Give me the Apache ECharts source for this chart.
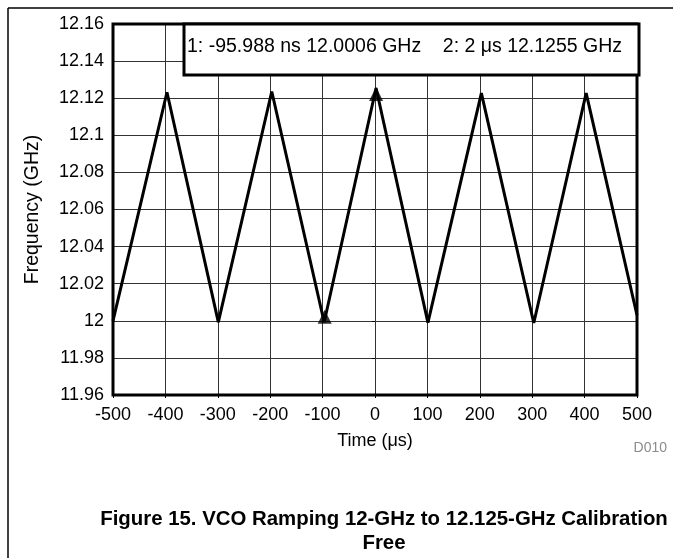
<!DOCTYPE html>
<html>
<head>
<meta charset="utf-8">
<script src="https://cdn.jsdelivr.net/npm/echarts@6/dist/echarts.min.js"></script>
<style>
html,body{margin:0;padding:0;background:#fff;}
#c{width:673px;height:558px;}
</style>
</head>
<body>
<div id="c"></div>
<script>
// Time (µs) and frequency (GHz) vertices of the measured ramp
var timeUs = [-500, -397, -299, -197, -97, 2, 101, 203, 303, 403, 500];
var freqGHz = [12.000, 12.1232, 11.9993, 12.1236, 11.9992, 12.1255, 11.9990, 12.1227, 11.9988, 12.1227, 12.003];
// Marker readouts
var markerTime = [-95.988, 2];
var markerFreq = [12.0006, 12.1255];
var markerText = '1: -95.988 ns 12.0006 GHz    2: 2 \u03bcs 12.1255 GHz';
// Axis settings
var xMin = -500, xMax = 500, xStep = 100;
var yMin = 11.96, yMax = 12.16, yStep = 0.02;

var lineData = timeUs.map(function (t, i) { return [t, freqGHz[i]]; });
var markData = markerTime.map(function (t, i) {
  return { value: [t, markerFreq[i]], symbolOffset: i === 0 ? [0, -3] : [0, 6] };
});

var font = 'Arial, "Liberation Sans", sans-serif';
var chart = echarts.init(document.getElementById('c'), null, { renderer: 'canvas' });
chart.setOption({
  animation: false,
  backgroundColor: '#fff',
  grid: { left: 113, right: 36, top: 24, bottom: 163, show: true, borderColor: '#000', borderWidth: 3, z: 3 },
  xAxis: {
    type: 'value', min: xMin, max: xMax, interval: xStep,
    name: 'Time (\u03bcs)', nameLocation: 'middle', nameGap: 37,
    nameTextStyle: { color: '#000', fontSize: 18, fontFamily: font },
    axisLine: { show: false },
    axisTick: { show: true, length: 3, lineStyle: { color: '#000' } },
    axisLabel: { color: '#000', fontSize: 18, fontFamily: font, margin: 11 },
    splitLine: { show: true, lineStyle: { color: '#333', width: 1 } }
  },
  yAxis: {
    type: 'value', min: yMin, max: yMax, interval: yStep,
    name: 'Frequency (GHz)', nameLocation: 'middle', nameGap: 70,
    nameTextStyle: { color: '#000', fontSize: 19.5, fontFamily: font },
    axisLine: { show: false },
    axisTick: { show: true, length: 3, lineStyle: { color: '#000' } },
    axisLabel: {
      color: '#000', fontSize: 18, fontFamily: font, margin: 9,
      formatter: function (v) { return String(parseFloat(v.toFixed(2))); }
    },
    splitLine: { show: true, lineStyle: { color: '#333', width: 1 } }
  },
  series: [
    {
      type: 'line', data: lineData, showSymbol: false, symbol: 'none',
      lineStyle: { color: '#000', width: 3 }, z: 2
    },
    {
      type: 'scatter', data: markData, symbol: 'triangle', symbolSize: [14, 14],
      itemStyle: { color: '#000' }, z: 4
    }
  ],
  graphic: [
    { type: 'line', shape: { x1: 8, y1: 8, x2: 673, y2: 8 }, style: { stroke: '#000', lineWidth: 1.5 } },
    { type: 'line', shape: { x1: 8, y1: 8, x2: 8, y2: 558 }, style: { stroke: '#000', lineWidth: 1.5 } },
    {
      type: 'rect', z: 10,
      shape: { x: 184, y: 24, width: 455, height: 51 },
      style: { fill: '#fff', stroke: '#000', lineWidth: 3 }
    },
    {
      type: 'text', z: 11, x: 187, y: 47,
      style: { text: markerText, fill: '#000', font: '19.5px ' + font, verticalAlign: 'middle' }
    },
    {
      type: 'text', z: 11, x: 667, y: 448,
      style: { text: 'D010', fill: '#8c8c8c', font: '14px ' + font, align: 'right', verticalAlign: 'middle' }
    },
    {
      type: 'text', z: 11, x: 384, y: 507,
      style: {
        text: 'Figure 15. VCO Ramping 12-GHz to 12.125-GHz Calibration\nFree',
        fill: '#000', font: 'bold 20.4px ' + font, align: 'center', lineHeight: 24
      }
    }
  ]
});
</script>
</body>
</html>
